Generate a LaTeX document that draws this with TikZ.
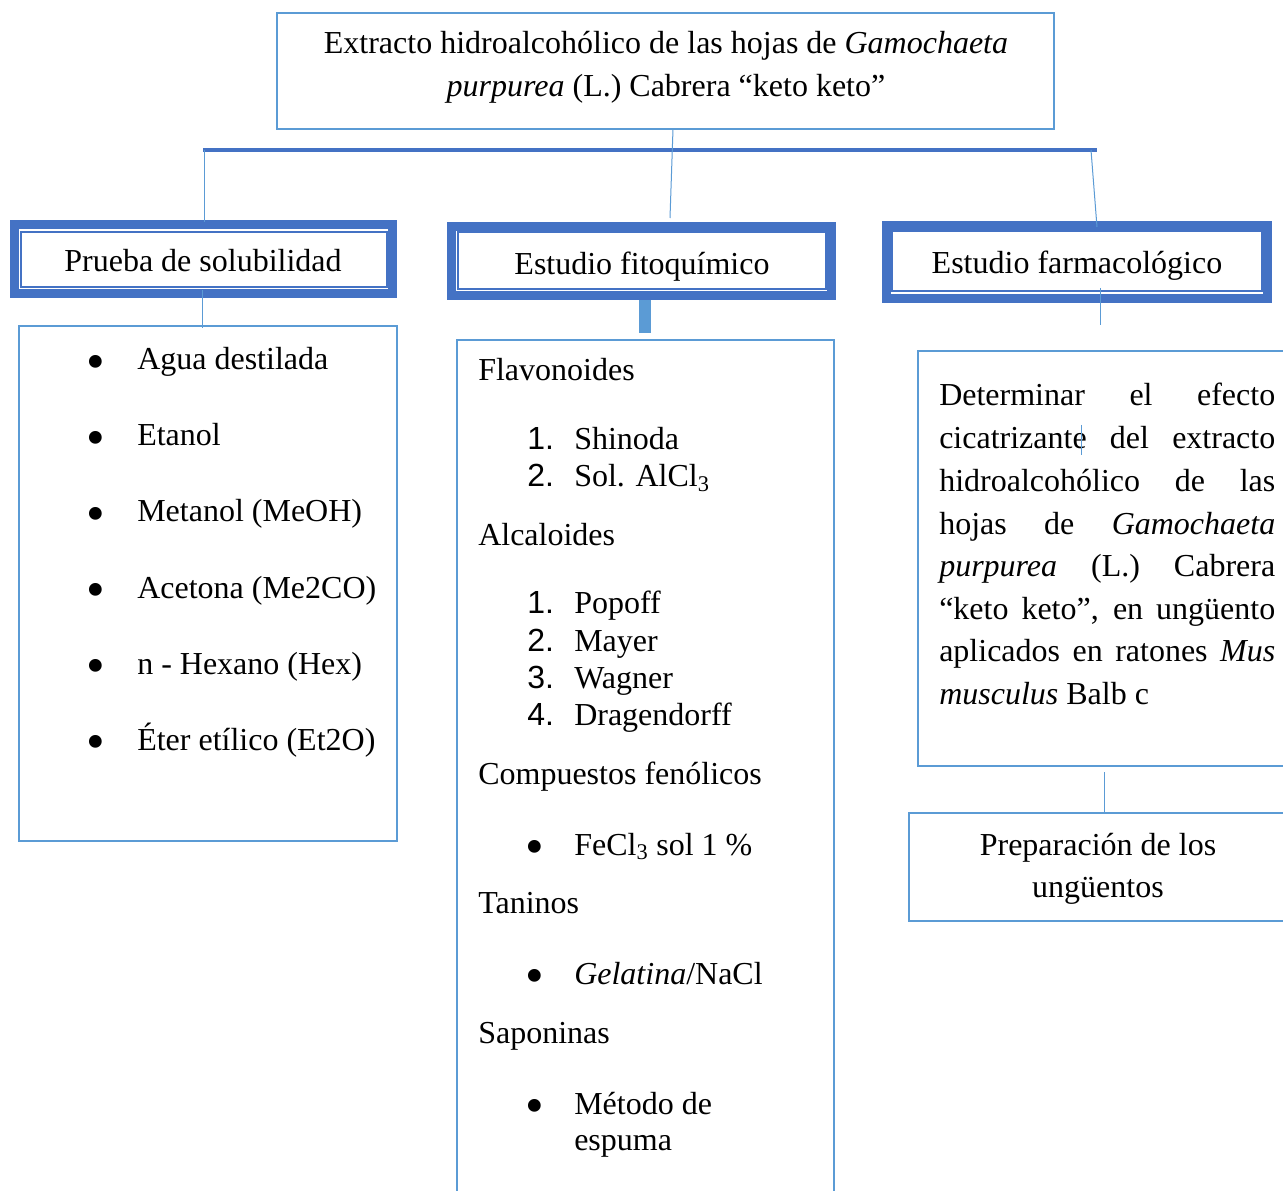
\documentclass[tikz,border=0pt]{standalone}
\usepackage{fontspec}
\setmainfont{Liberation Serif}
\newfontfamily\numfont{Liberation Sans}
\usetikzlibrary{fit}
\definecolor{dblue}{HTML}{4472C4}
\definecolor{lblue}{HTML}{5B9BD5}
\begin{document}
\begin{tikzpicture}[x=0.75pt,y=-0.75pt,
 txt/.style={inner sep=0pt, font=\fontsize{24}{28}\selectfont},
 tl/.style={txt, anchor=base west, yshift=-1.5pt},
 tc/.style={txt, anchor=base},
 bul/.style={inner sep=0pt, anchor=center, font=\fontsize{40}{40}\selectfont},
 lbox/.style={draw=lblue, line width=1.9pt, inner sep=0pt},
 obox/.style={draw=dblue, line width=6.75pt, inner sep=0pt},
 ibox/.style={draw=dblue, line width=1.5pt, inner sep=0pt},
 conn/.style={draw=lblue, line width=0.75pt},
 bar/.style={draw=dblue, line width=3pt},
]
\fill[white] (0,0) rectangle (1283,1191);
\clip (0,0) rectangle (1283,1191);

% top box
\node[lbox, fit={(277,13)(1054,129)}] (top) {};
\node[tc] (top1) at (666,54) {Extracto hidroalcohólico de las hojas de \textit{Gamochaeta}};
\node[tc] (top2) at (666,97) {\textit{purpurea} (L.) Cabrera “keto keto”};

% bar
\coordinate (barL) at (203,150);
\coordinate (barR) at (1097,150);
\draw[bar] (barL) -- (barR);

% level 2 boxes
\node[obox, fit={(14.5,224.5)(392.5,293.5)}] (pruebaO) {};
\node[ibox, fit={(21,232)(387,287)}] (prueba) {};
\node[tc] (tprueba) at (203,272) {Prueba de solubilidad};

\node[obox, fit={(451.5,226.5)(831.5,295.5)}] (fitoO) {};
\node[ibox, fit={(458,232)(826,289)}] (fito) {};
\node[tc] (tfito) at (642,275) {Estudio fitoquímico};

\node[obox, fit={(886.5,225.5)(1267.5,298.5)}] (farmO) {};
\node[ibox, fit={(892,231)(1262,291)}] (farm) {};
\node[tc] (tfarm) at (1077,274) {Estudio farmacológico};

% connectors
\coordinate (c1a) at (673,129); \coordinate (c1b) at (670,218);
\draw[conn] (c1a) -- (c1b);
\coordinate (c2a) at (204,150); \coordinate (c2b) at (204,222);
\draw[conn] (c2a) -- (c2b);
\coordinate (c3a) at (1091,150); \coordinate (c3b) at (1097,227);
\draw[conn] (c3a) -- (c3b);
\coordinate (c4a) at (202,290); \coordinate (c4b) at (202,328);
\draw[conn] (c4a) -- (c4b);
\coordinate (c5a) at (645,300); \coordinate (c5b) at (645,333);
\draw[draw=lblue, line width=9pt] (c5a) -- (c5b);
\coordinate (c6a) at (1100,288); \coordinate (c6b) at (1100,325);
\draw[conn] (c6a) -- (c6b);
\coordinate (c7a) at (1104,772); \coordinate (c7b) at (1104,812);
\draw[conn] (c7a) -- (c7b);

% left list box
\node[lbox, fit={(19,326)(397,841)}] (sol) {};
\foreach \y/\t [count=\i] in {368/Agua destilada, 444/Etanol, 520/Metanol (MeOH), 596/Acetona (Me2CO), 672/n - Hexano (Hex), 748/Éter etílico (Et2O)} {
  \node[bul] (sb\i) at (96,\y-1) {\textbullet};
  \node[tl] (st\i) at (137,\y) {\t};
}

% middle box
\node[lbox, fit={(457,340)(834,1250)}] (fq) {};
\node[tl] (h1) at (478,379) {Flavonoides};
\node[tl] (n11) at (527,448) {\numfont 1.};
\node[tl] (t11) at (574,448) {Shinoda};
\node[tl] (n12) at (527,485) {\numfont 2.};
\node[tl] (t12) at (574,485) {Sol. AlCl\textsubscript{3}};
\node[tl] (h2) at (478,544) {Alcaloides};
\node[tl] (n21) at (527,611) {\numfont 1.};
\node[tl] (t21) at (574,611) {Popoff};
\node[tl] (n22) at (527,649) {\numfont 2.};
\node[tl] (t22) at (574,649) {Mayer};
\node[tl] (n23) at (527,686) {\numfont 3.};
\node[tl] (t23) at (574,686) {Wagner};
\node[tl] (n24) at (527,723) {\numfont 4.};
\node[tl] (t24) at (574,723) {Dragendorff};
\node[tl] (h3) at (478,782) {Compuestos fenólicos};
\node[bul] (b31) at (535,852) {\textbullet};
\node[tl] (t31) at (574,853) {FeCl\textsubscript{3} sol 1 \%};
\node[tl] (h4) at (478,911) {Taninos};
\node[bul] (b41) at (535,981) {\textbullet};
\node[tl] (t41) at (574,982) {\textit{Gelatina}/NaCl};
\node[tl] (h5) at (478,1041) {Saponinas};
\node[bul] (b51) at (535,1111) {\textbullet};
\node[tl] (t51) at (574,1112) {Método de};
\node[tl] (t52) at (574,1148) {espuma};

% right text box
\node[lbox, fit={(918,351)(1320,766)}] (obj) {};
\node[tl] (o1) at (939,404) {\makebox[252pt][s]{Determinar el efecto}};
\node[tl] (o2) at (939,447) {\makebox[252pt][s]{cicatrizante del extracto}};
\node[tl] (o3) at (939,490) {\makebox[252pt][s]{hidroalcohólico de las}};
\node[tl] (o4) at (939,532) {\makebox[252pt][s]{hojas de \textit{Gamochaeta}}};
\node[tl] (o5) at (939,574) {\makebox[252pt][s]{\textit{purpurea} (L.) Cabrera}};
\node[tl] (o6) at (939,617) {\makebox[252pt][s]{“keto keto”, en ungüento}};
\node[tl] (o7) at (939,659) {\makebox[252pt][s]{aplicados en ratones \textit{Mus}}};
\node[tl] (o8) at (939,702) {\textit{musculus} Balb c};
\coordinate (s1) at (1081,425); \coordinate (s2) at (1081,455);
\draw[conn] (s1) -- (s2);

% preparation box
\node[lbox, fit={(909,813)(1320,921)}] (prep) {};
\node[tc] (p1) at (1098,855) {Preparación de los};
\node[tc] (p2) at (1098,897) {ungüentos};
\end{tikzpicture}
\end{document}
